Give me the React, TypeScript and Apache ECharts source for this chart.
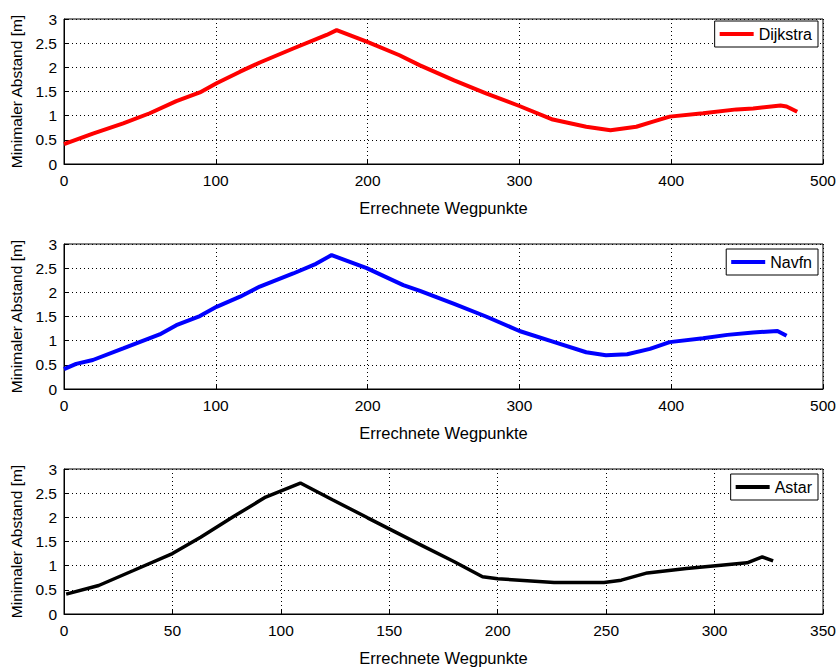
import React, { useEffect, useRef } from "react";
import * as echarts from "echarts";

const dijkstraX = [0, 19, 39, 56.5, 74, 89.5, 100.5, 116, 129, 151, 173, 179.6, 199.4, 221, 234.5, 257, 278, 300, 322, 344, 360, 377, 388, 399, 421, 443, 454, 472, 476, 483];
const dijkstraY = [0.41, 0.63, 0.84, 1.05, 1.3, 1.48, 1.67, 1.91, 2.1, 2.39, 2.67, 2.77, 2.53, 2.25, 2.04, 1.73, 1.46, 1.2, 0.92, 0.77, 0.7, 0.77, 0.875, 0.98, 1.05, 1.13, 1.15, 1.21, 1.19, 1.08];

const navfnX = [0, 8, 19, 39, 63, 74, 89.5, 100.5, 116, 129, 151, 166, 176.3, 199.4, 223.5, 234.5, 257, 278, 300, 322, 344, 357, 371, 386, 399, 421, 437, 454, 470, 476];
const navfnY = [0.41, 0.52, 0.6, 0.84, 1.13, 1.32, 1.51, 1.7, 1.91, 2.12, 2.39, 2.59, 2.77, 2.5, 2.15, 2.03, 1.76, 1.5, 1.2, 0.98, 0.76, 0.7, 0.72, 0.83, 0.97, 1.05, 1.12, 1.17, 1.2, 1.1];

const astarX = [1, 16, 32, 50, 63, 78, 93, 109, 124, 140, 164, 180, 193, 200, 226, 249, 257, 269, 287, 303, 315, 322, 327];
const astarY = [0.41, 0.59, 0.9, 1.25, 1.59, 2.01, 2.42, 2.71, 2.36, 1.99, 1.44, 1.08, 0.77, 0.73, 0.65, 0.65, 0.7, 0.85, 0.94, 1.01, 1.06, 1.18, 1.1];

const xMaxes = [500, 500, 350];
const xIntervals = [100, 100, 50];
const yTicks = [0, 0.5, 1, 1.5, 2, 2.5, 3];
const xAxisName = "Errechnete Wegpunkte";
const yAxisName = "Minimaler Abstand [m]";

const seriesNames = ["Dijkstra", "Navfn", "Astar"];
const seriesColors = ["#ff0000", "#0000ff", "#000000"];
const seriesX = [dijkstraX, navfnX, astarX];
const seriesY = [dijkstraY, navfnY, astarY];

const FONT = "Liberation Sans, Arial, Helvetica, sans-serif";

export default function App() {
  const ref = useRef<HTMLDivElement>(null);
  useEffect(() => {
    if (!ref.current) return;
    const chart = echarts.init(ref.current, null, { renderer: "svg" });
    const tops = [19, 244, 469];
    const legendTops = [21, 249, 474];
    const grids = tops.map((t) => ({
      left: 64,
      right: 17,
      top: t,
      height: 145,
      show: true,
      borderColor: "#000",
      borderWidth: 1,
      backgroundColor: "#fff",
    }));
    const xAxes = xMaxes.map((mx, i) => ({
      type: "value",
      gridIndex: i,
      min: 0,
      max: mx,
      interval: xIntervals[i],
      name: xAxisName,
      nameLocation: "middle",
      nameGap: 35,
      nameTextStyle: { fontFamily: FONT, fontSize: 16.5, color: "#000" },
      axisLine: { show: true, lineStyle: { color: "#000", width: 1 } },
      axisTick: { show: true, inside: true, length: 4, lineStyle: { color: "#000" } },
      axisLabel: { fontFamily: FONT, fontSize: 15.5, color: "#000", margin: 8 },
      splitLine: { show: true, lineStyle: { color: "#000", type: [1, 3], width: 1 } },
    }));
    const yAxes = tops.map((_, i) => ({
      type: "value",
      gridIndex: i,
      min: yTicks[0],
      max: yTicks[yTicks.length - 1],
      interval: 0.5,
      name: yAxisName,
      nameLocation: "middle",
      nameGap: 40,
      nameTextStyle: { fontFamily: FONT, fontSize: 15.5, color: "#000" },
      axisLine: { show: true, lineStyle: { color: "#000", width: 1 } },
      axisTick: { show: true, inside: true, length: 4, lineStyle: { color: "#000" } },
      axisLabel: { fontFamily: FONT, fontSize: 15.5, color: "#000", margin: 7 },
      splitLine: { show: true, lineStyle: { color: "#000", type: [1, 3], width: 1 } },
    }));
    const series = seriesNames.map((name, i) => ({
      type: "line",
      name,
      xAxisIndex: i,
      yAxisIndex: i,
      showSymbol: false,
      symbol: "none",
      lineStyle: { color: seriesColors[i], width: i === 2 ? 3.5 : 4 },
      itemStyle: { color: seriesColors[i] },
      data: seriesX[i].map((x, j) => [x, seriesY[i][j]]),
    }));
    const legends = seriesNames.map((name, i) => ({
      data: [name],
      right: 22,
      top: legendTops[i],
      orient: "horizontal",
      icon: "rect",
      itemWidth: 34,
      itemHeight: 4,
      itemGap: 0,
      backgroundColor: "#fff",
      borderColor: "#000",
      borderWidth: 1,
      borderRadius: 0,
      padding: [5, 6, 5, 5],
      textStyle: { fontFamily: FONT, fontSize: 16, color: "#000", padding: [0, 0, 0, 0] },
    }));
    chart.setOption({
      animation: false,
      backgroundColor: "#fff",
      grid: grids,
      xAxis: xAxes,
      yAxis: yAxes,
      legend: legends,
      series,
    });
    return () => chart.dispose();
  }, []);
  return <div ref={ref} style={{ width: 840, height: 667, position: "absolute", left: 0, top: 0 }} />;
}
